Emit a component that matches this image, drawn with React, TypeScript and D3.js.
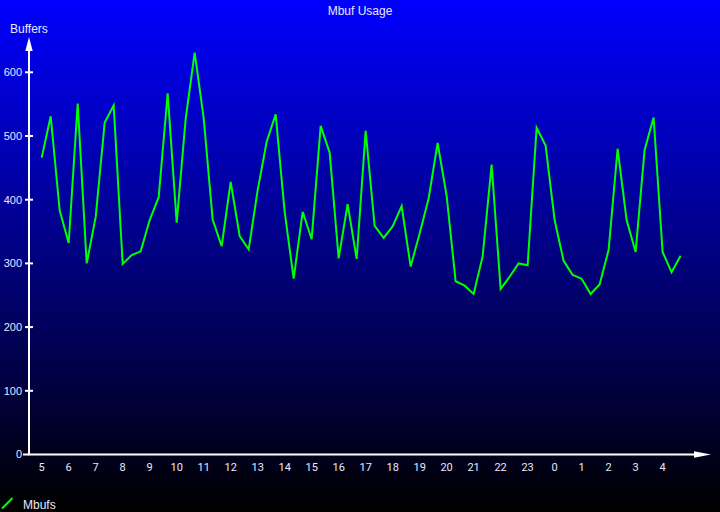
import { useEffect, useRef } from "react";
import * as d3 from "d3";

// hour labels, one every three samples (20 minute samples)
const hourLabels = [
  "5", "6", "7", "8", "9", "10", "11", "12", "13", "14", "15", "16",
  "17", "18", "19", "20", "21", "22", "23", "0", "1", "2", "3", "4",
];

// Mbufs in use, one value per 20 minutes
const mbufs = [
  466, 531, 383, 332, 551, 300, 373, 521, 548, 299, 313, 319,
  368, 404, 567, 364, 527, 631, 528, 369, 327, 428, 343, 322,
  415, 491, 534, 381, 276, 381, 338, 516, 474, 308, 393, 307,
  508, 359, 340, 358, 390, 295, 347, 402, 489, 406, 272, 265,
  252, 311, 455, 260, 279, 300, 297, 513, 485, 368, 304, 282,
  276, 252, 267, 321, 480, 368, 318, 478, 529, 318, 286, 312,
];

const yTicks = [0, 100, 200, 300, 400, 500, 600];

const App = () => {
  const svgRef = useRef<SVGSVGElement>(null);

  useEffect(() => {
    const width = 720;
    const height = 512;
    const font = "'Liberation Sans', Arial, sans-serif";

    d3.select(svgRef.current).selectAll("*").remove();
    const svg = d3.select(svgRef.current).attr("width", width).attr("height", height);

    // background gradient blue -> black
    const grad = svg
      .append("defs")
      .append("linearGradient")
      .attr("id", "bg")
      .attr("x1", 0)
      .attr("y1", 0)
      .attr("x2", 0)
      .attr("y2", 1);
    grad.append("stop").attr("offset", "0%").attr("stop-color", "#0000ff");
    grad.append("stop").attr("offset", "100%").attr("stop-color", "#000000");
    svg.append("rect").attr("width", width).attr("height", height).attr("fill", "url(#bg)");

    const x0 = 29;
    const y0 = 454.5;

    const x = d3.scaleLinear().domain([0, mbufs.length - 1]).range([41.7, 680.6]);
    const y = d3.scaleLinear().domain([0, 600]).range([y0, 72.3]);

    // title
    svg
      .append("text")
      .attr("x", width / 2)
      .attr("y", 15)
      .attr("text-anchor", "middle")
      .style("fill", "#e8e8ff")
      .style("font-family", font)
      .style("font-size", "12px")
      .text("Mbuf Usage");

    // y axis with arrow
    svg
      .append("line")
      .attr("x1", x0)
      .attr("x2", x0)
      .attr("y1", y0)
      .attr("y2", 48)
      .attr("stroke", "#fff")
      .attr("stroke-width", 2);
    svg
      .append("path")
      .attr("d", `M${x0},37 L${x0 + 3.7},51 L${x0 - 3.7},51 Z`)
      .attr("fill", "#fff");
    svg
      .append("text")
      .attr("x", 10)
      .attr("y", 33)
      .style("fill", "#e8e8ff")
      .style("font-family", font)
      .style("font-size", "12px")
      .text("Buffers");

    const yt = svg.append("g");
    yt.selectAll("line")
      .data(yTicks)
      .enter()
      .append("line")
      .attr("x1", (d) => (d === 0 ? x0 - 6 : x0 - 4))
      .attr("x2", (d) => (d === 0 ? x0 : x0 + 4))
      .attr("y1", (d) => y(d))
      .attr("y2", (d) => y(d))
      .attr("stroke", "#fff")
      .attr("stroke-width", 2);
    yt.selectAll("text")
      .data(yTicks)
      .enter()
      .append("text")
      .attr("x", x0 - 7)
      .attr("y", (d) => y(d))
      .attr("dy", "0.35em")
      .attr("text-anchor", "end")
      .style("fill", "#e8e8ff")
      .style("font-family", font)
      .style("font-size", "11px")
      .text((d) => d);

    // x axis with arrow
    svg
      .append("line")
      .attr("x1", x0 - 1)
      .attr("x2", 700)
      .attr("y1", y0)
      .attr("y2", y0)
      .attr("stroke", "#fff")
      .attr("stroke-width", 2);
    svg
      .append("path")
      .attr("d", `M711,${y0} L694,${y0 - 3.3} L694,${y0 + 3.3} Z`)
      .attr("fill", "#fff");

    svg
      .append("g")
      .selectAll("text")
      .data(hourLabels)
      .enter()
      .append("text")
      .attr("x", (d, i) => x(i * 3))
      .attr("y", 471)
      .attr("text-anchor", "middle")
      .style("fill", "#e8e8ff")
      .style("font-family", "Roboto, sans-serif")
      .style("font-size", "11px")
      .text((d) => d);

    // data line
    const line = d3
      .line<number>()
      .x((d, i) => x(i))
      .y((d) => y(d));
    svg
      .append("path")
      .datum(mbufs)
      .attr("fill", "none")
      .attr("stroke", "#00ff00")
      .attr("stroke-width", 2)
      .attr("stroke-linejoin", "miter")
      .attr("d", line);

    // legend
    svg
      .append("line")
      .attr("x1", 2)
      .attr("y1", 508.5)
      .attr("x2", 12.5)
      .attr("y2", 498)
      .attr("stroke", "#00ff00")
      .attr("stroke-width", 2);
    svg
      .append("text")
      .attr("x", 23)
      .attr("y", 509)
      .style("fill", "#e8e8ff")
      .style("font-family", font)
      .style("font-size", "12px")
      .text("Mbufs");
  }, []);

  return <svg ref={svgRef} style={{ position: "absolute", left: 0, top: 0, display: "block" }}></svg>;
};

export default App;
